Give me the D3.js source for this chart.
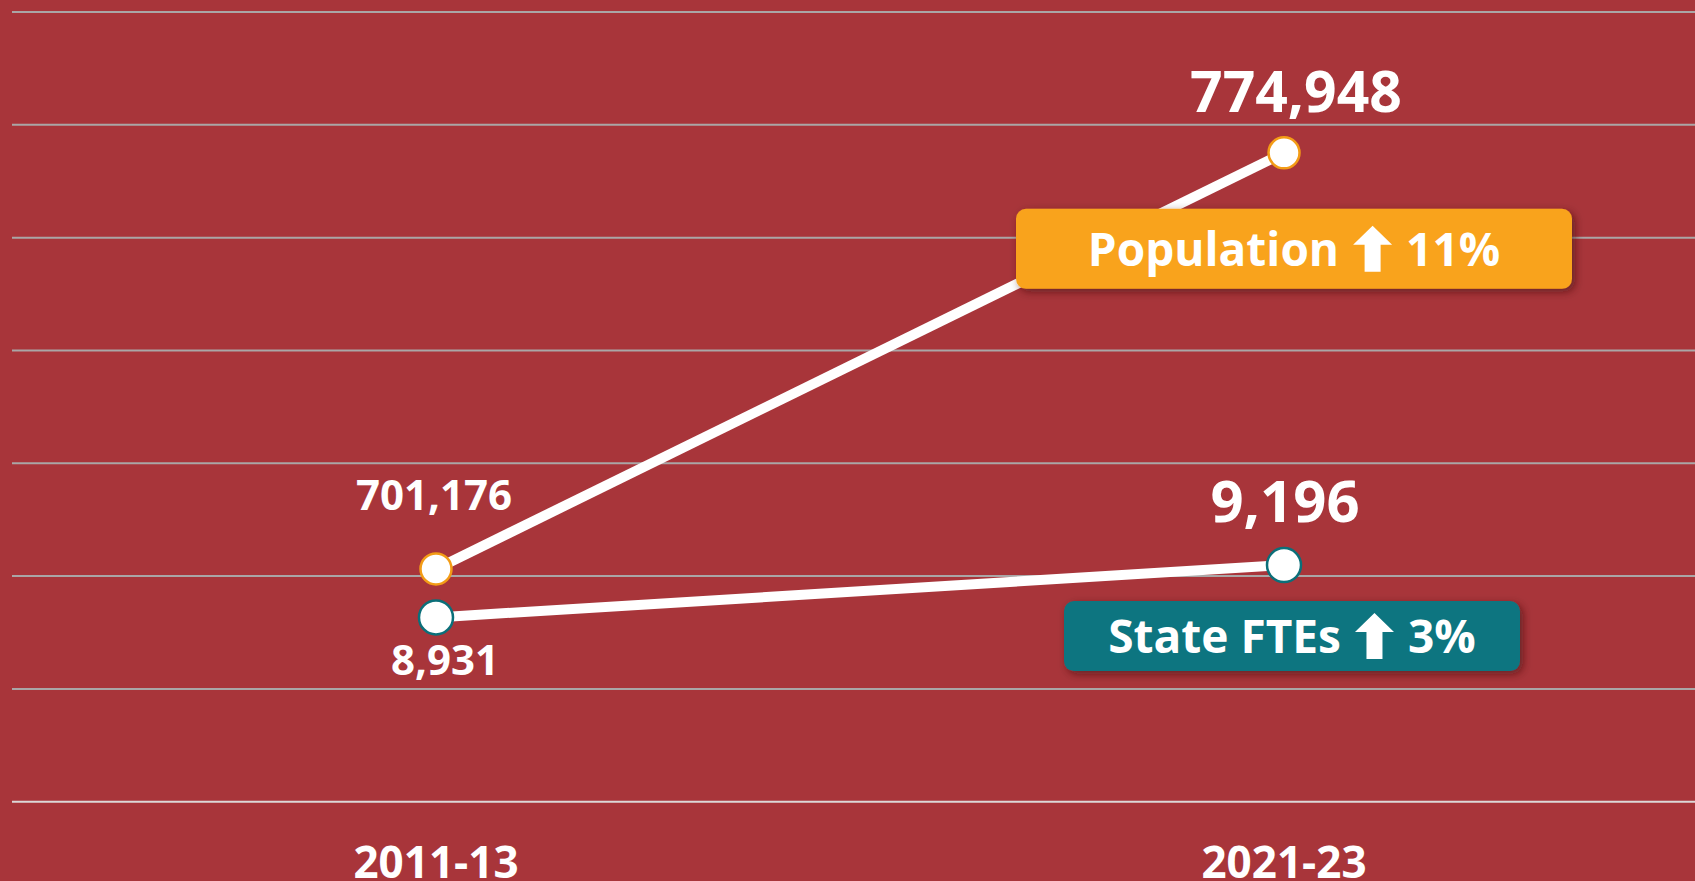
<!DOCTYPE html>
<html>
<head>
<meta charset="utf-8">
<script src="https://cdn.jsdelivr.net/npm/d3@7"></script>
<style>
  html, body { margin: 0; padding: 0; background: #a8353a; overflow: hidden; }
  svg { display: block; font-family: "Open Sans", "Noto Sans", sans-serif; font-weight: 700; }
  svg text { font-family: "Open Sans", "Noto Sans", sans-serif; font-weight: 700; }
  .grid line { stroke: #aaa6a6; stroke-width: 2; }
  .grid .base { stroke: #dcd8d8; }
  .series { fill: none; stroke: #fff; stroke-width: 10; }
  .lbl { fill: #fff; text-anchor: middle; }
  .cat { fill: #fff; text-anchor: middle; font-size: 44px; }
  .badge text { fill: #fff; font-size: 46px; }
</style>
</head>
<body>
<div id="chart"></div>
<script>
((() => {
  'use strict';

  const categories = ["2011-13", "2021-23"];
  const population = [701176, 774948];
  const stateFtes = [8931, 9196];
  const popTicks = [660000, 680000, 700000, 720000, 740000, 760000, 780000, 800000];
  const fteDomain = [8000, 12000];
  const badges = [
    { name: "Population", change: "11%" },
    { name: "State FTEs", change: "3%" }
  ];

  const size = { width: 1695, height: 881 };
  const plot = { left: 12, right: 1708, top: 11.5, bottom: 801.2 };

  const svg = d3.select("#chart").append("svg")
        .attr("width", size.width)
        .attr("height", size.height);

  const defs = svg.append("defs");
  const shadow = defs.append("filter")
        .attr("id", "shadow")
        .attr("x", "-10%").attr("y", "-30%")
        .attr("width", "120%").attr("height", "160%");
  shadow.append("feDropShadow")
        .attr("dx", 3).attr("dy", 3)
        .attr("stdDeviation", 4)
        .attr("flood-color", "#3a0a0c")
        .attr("flood-opacity", 0.6);

  svg.append("rect")
     .attr("width", size.width)
     .attr("height", size.height)
     .attr("fill", "#a8353a");

  const xScale = d3.scaleBand()
        .domain(categories)
        .range([plot.left, plot.right]);
  const xMid = d => xScale(d) + xScale.bandwidth() / 2;

  const yPop = d3.scaleLinear()
        .domain(d3.extent(popTicks))
        .range([plot.bottom, plot.top]);
  const yFte = d3.scaleLinear()
        .domain(fteDomain)
        .range([plot.bottom, plot.top]);

  // horizontal grid from the population axis
  const yGrid = d3.axisLeft(yPop)
        .tickValues(popTicks)
        .tickSize(-(size.width - plot.left))
        .tickFormat("");

  const grid = svg.append("g")
        .attr("class", "grid")
        .attr("transform", "translate(" + plot.left + ",0)")
        .call(yGrid);
  grid.select(".domain").remove();
  grid.selectAll(".tick line")
      .classed("base", d => d === popTicks[0]);

  // category labels sit right at the bottom edge
  const xAxis = d3.axisBottom(xScale).tickSize(0).tickPadding(0);
  const xg = svg.append("g")
        .attr("transform", "translate(0," + plot.bottom + ")")
        .call(xAxis)
        .attr("font-family", null)
        .attr("font-size", null);
  xg.select(".domain").remove();
  xg.selectAll(".tick text")
    .attr("class", "cat")
    .attr("dy", null)
    .attr("y", 77);

  const popData = categories.map((c, i) => ({ cat: c, value: population[i] }));
  const fteData = categories.map((c, i) => ({ cat: c, value: stateFtes[i] }));

  const popLine = d3.line().x(d => xMid(d.cat)).y(d => yPop(d.value));
  const fteLine = d3.line().x(d => xMid(d.cat)).y(d => yFte(d.value));

  svg.append("path").datum(popData).attr("class", "series").attr("d", popLine);
  svg.append("path").datum(fteData).attr("class", "series").attr("d", fteLine);

  svg.append("g").selectAll("circle")
     .data(popData).join("circle")
     .attr("cx", d => xMid(d.cat))
     .attr("cy", d => yPop(d.value))
     .attr("r", 15.5)
     .attr("fill", "#fff")
     .attr("stroke", "#f39c16")
     .attr("stroke-width", 2.5);

  svg.append("g").selectAll("circle")
     .data(fteData).join("circle")
     .attr("cx", d => xMid(d.cat))
     .attr("cy", d => yFte(d.value))
     .attr("r", 17)
     .attr("fill", "#fff")
     .attr("stroke", "#0b6f79")
     .attr("stroke-width", 2.5);

  // value labels: first period small, latest period large
  const fmt = d3.format(",");
  const popLabelStyle = [{ size: 42, dy: -59, dx: -2 }, { size: 57, dy: -41, dx: 12 }];
  const fteLabelStyle = [{ size: 42, dy: 58, dx: 9 }, { size: 58, dy: -43, dx: 1 }];

  svg.append("g").selectAll("text")
     .data(popData).join("text")
     .attr("class", "lbl")
     .attr("x", (d, i) => xMid(d.cat) + popLabelStyle[i].dx)
     .attr("y", (d, i) => yPop(d.value) + popLabelStyle[i].dy)
     .style("font-size", (d, i) => popLabelStyle[i].size + "px")
     .text(d => fmt(d.value));

  svg.append("g").selectAll("text")
     .data(fteData).join("text")
     .attr("class", "lbl")
     .attr("x", (d, i) => xMid(d.cat) + fteLabelStyle[i].dx)
     .attr("y", (d, i) => yFte(d.value) + fteLabelStyle[i].dy)
     .style("font-size", (d, i) => fteLabelStyle[i].size + "px")
     .text(d => fmt(d.value));

  // change badges next to the latest points
  const last = categories[categories.length - 1];
  const badgeBoxes = [
    { fill: "#f9a31c", w: 556, h: 80, dx: 10, top: yPop(population[1]) + 56 },
    { fill: "#0a7480", w: 456, h: 70, dx: 8, top: yFte(stateFtes[1]) + 36 }
  ];

  badges.forEach((b, i) => {
    const box = badgeBoxes[i];
    const cx = xMid(last) + box.dx;
    const g = svg.append("g").attr("class", "badge");

    g.append("rect")
     .attr("x", cx - box.w / 2)
     .attr("y", box.top)
     .attr("width", box.w)
     .attr("height", box.h)
     .attr("rx", 10)
     .attr("fill", box.fill)
     .attr("filter", "url(#shadow)");

    const baseline = box.top + box.h / 2 + 17;
    const t1 = g.append("text").attr("y", baseline).text(b.name);
    const t2 = g.append("text").attr("y", baseline).text(b.change);
    const w1 = t1.node().getComputedTextLength();
    const w2 = t2.node().getComputedTextLength();
    const aw = 39, ah = 46, gap = 14;
    const x0 = cx - (w1 + gap + aw + gap + w2) / 2;
    t1.attr("x", x0);
    t2.attr("x", x0 + w1 + gap + aw + gap);

    // block up-arrow
    const ax = x0 + w1 + gap;
    const atop = baseline - 40;
    const stem = 16, head = 19;
    g.append("path")
     .attr("fill", "#fff")
     .attr("d", [
       "M", ax + aw / 2, atop,
       "L", ax + aw, atop + head,
       "L", ax + aw / 2 + stem / 2, atop + head,
       "L", ax + aw / 2 + stem / 2, atop + ah,
       "L", ax + aw / 2 - stem / 2, atop + ah,
       "L", ax + aw / 2 - stem / 2, atop + head,
       "L", ax, atop + head, "Z"
     ].join(" "));
  });
})());
</script>
</body>
</html>
